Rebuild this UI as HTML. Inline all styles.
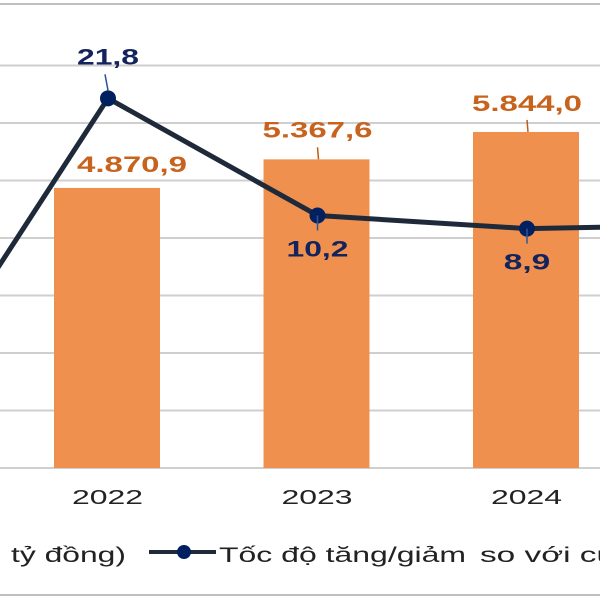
<!DOCTYPE html>
<html><head><meta charset="utf-8"><style>
html,body{margin:0;padding:0;background:#fff;width:600px;height:600px;overflow:hidden}
svg{display:block;font-family:"Liberation Sans",Arial,sans-serif}
</style></head><body>
<svg id="chart" width="600" height="600" viewBox="0 0 600 600">
<line x1="0" y1="4" x2="600" y2="4" stroke="#bfbfbf" stroke-width="2"/>
<g id="grid"></g>
<g id="bars"></g>
<g id="line"></g>
<g id="xaxis"></g>
<g>
<text x="11" y="562" font-size="21" fill="#222" textLength="115" lengthAdjust="spacingAndGlyphs">tỷ đồng)</text>
<line x1="149" y1="552" x2="216" y2="552" stroke="#1e2a3a" stroke-width="4"/>
<circle cx="184" cy="552" r="7" fill="#002060"/>
<text x="219" y="562" font-size="21" fill="#222" textLength="247" lengthAdjust="spacingAndGlyphs">Tốc độ tăng/giảm</text>
<text x="480" y="562" font-size="21" fill="#222" textLength="135" lengthAdjust="spacingAndGlyphs">so với cù</text>
</g>
<line x1="0" y1="595" x2="600" y2="595" stroke="#bfbfbf" stroke-width="2"/>
</svg>
<script>
const categories = ["2021","2022","2023","2024","2025"];
const barValues = [null, 4870.9, 5367.6, 5844.0, null];
const barLabels = ["", "4.870,9", "5.367,6", "5.844,0", ""];
const growthValues = [-10.1, 21.8, 10.2, 8.9, 9.3];
const growthLabels = ["", "21,8", "10,2", "8,9", ""];
const gridTicks = [0,1000,2000,3000,4000,5000,6000,7000];
const showYear = [false,true,true,true,false];

const NS="http://www.w3.org/2000/svg";
const barLabelDx=[0,24,0,0,0], barLabelDy=[0,16,22,21,0], barLeader=[false,false,true,true,false];
function xC(i){return 108+(i-1)*209.5;}
function yBar(v){return 468-v*0.0575;}
function yLine(v){return 318.5-v*10.1;}
function mk(t,p,a){const e=document.createElementNS(NS,t);for(const k in a)e.setAttribute(k,a[k]);p.appendChild(e);return e;}
const grid=document.getElementById('grid'),bars=document.getElementById('bars'),line=document.getElementById('line'),xa=document.getElementById('xaxis');
gridTicks.forEach(t=>{
  const l=mk('line',grid,{x1:0,x2:600,y1:yBar(t),y2:yBar(t),stroke:'#cfcfcf','stroke-width':2});
  
  
});
categories.forEach((c,i)=>{
  if(barValues[i]!=null){
    const y=yBar(barValues[i]);
    const r=mk('rect',bars,{x:xC(i)-54,y:y,width:106,height:468-y,fill:'#F0904F'});
    
    
    if(barLeader[i]){
      const lead=mk('line',bars,{x1:xC(i),y1:y-12,x2:xC(i)+1,y2:y,stroke:'#C55A11','stroke-width':1.5});
      
      
    }
    const tx=xC(i)+barLabelDx[i];
    const t=mk('text',bars,{x:tx-55,y:y-barLabelDy[i],'font-size':22,'font-weight':'bold',fill:'#C8631E',textLength:110,lengthAdjust:'spacingAndGlyphs'});
    t.textContent=barLabels[i];
    
    
  }
  if(showYear[i]){
    const t=mk('text',xa,{x:xC(i)-36,y:504,'font-size':20,fill:'#222',textLength:71,lengthAdjust:'spacingAndGlyphs'});
    t.textContent=c;
    
    
  }
});
const pts=growthValues.map((v,i)=>xC(i)+','+yLine(v)).join(' ');
const pl=mk('polyline',line,{points:pts,fill:'none',stroke:'#1e2a3a','stroke-width':5,'stroke-linejoin':'round'});


growthValues.forEach((v,i)=>{
  const y=yLine(v);
  const c=mk('circle',line,{cx:xC(i),cy:y,r:8,fill:'#002060'});
  
  
  if(growthLabels[i]){
    const above=(i===1);
    const ld=mk('line',line,{x1:xC(i),y1:above?y-8:y,x2:xC(i)+(above?-3:0),y2:above?y-24:y+15,stroke:'#2E5597','stroke-width':1.5});
    
    
    const w=growthLabels[i].length*15.5;
    const t=mk('text',line,{x:xC(i)-w/2,y:above?y-34:y+41,'font-size':22,'font-weight':'bold',fill:'#13235B',textLength:w,lengthAdjust:'spacingAndGlyphs'});
    t.textContent=growthLabels[i];
    
    
  }
});
</script>
</body></html>
